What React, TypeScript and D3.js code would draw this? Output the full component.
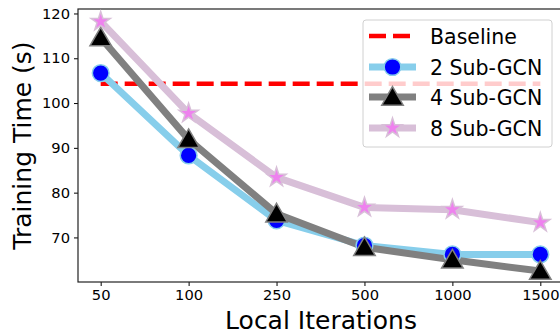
import React, { useEffect, useRef } from 'react';
import * as d3 from 'd3';

const iterations = ['50', '100', '250', '500', '1000', '1500'];
const baseline = 104.3;
const sub2 = [106.7, 88.3, 73.8, 68.2, 66.2, 66.2];
const sub4 = [114.6, 91.9, 75.3, 67.8, 65.0, 62.5];
const sub8 = [118.2, 97.7, 83.4, 76.7, 76.2, 73.3];
const yTicks = [70, 80, 90, 100, 110, 120];

const W = 560;
const H = 335;

const App = () => {
    const svgRef = useRef(null);

    useEffect(() => {
        const margin = { top: 9, right: -3, bottom: 53, left: 78 };
        const width = W - margin.left - margin.right;
        const height = H - margin.top - margin.bottom;

        d3.select(svgRef.current).selectAll('*').remove();
        const root = d3.select(svgRef.current);
        const svg = root.append('g')
            .attr('transform', `translate(${margin.left},${margin.top})`);

        const font = "'DejaVu Sans', sans-serif";

        const x = d3.scalePoint()
            .domain(iterations)
            .range([0, width])
            .padding(0.258);

        const y = d3.scaleLinear()
            .domain([60.05, 121])
            .range([height, 0]);

        // axes
        const xAxis = svg.append('g')
            .attr('transform', `translate(0,${height})`)
            .call(d3.axisBottom(x).tickSize(4).tickPadding(4));
        const yAxis = svg.append('g')
            .call(d3.axisLeft(y).tickValues(yTicks).tickSize(4).tickPadding(4));
        [xAxis, yAxis].forEach(a => {
            a.selectAll('text').style('font-family', font).style('font-size', '14.7px').attr('fill', '#000');
            a.selectAll('line').attr('stroke', '#000').attr('stroke-width', 1);
            a.select('.domain').remove();
        });

        // frame
        svg.append('rect')
            .attr('x', 0).attr('y', 0)
            .attr('width', width).attr('height', height)
            .attr('fill', 'none')
            .attr('stroke', '#222')
            .attr('stroke-width', 1.2);

        const plot = svg.append('g');

        const series = [
            { name: '2 Sub-GCN', values: sub2, line: '#87CEEB', fill: '#0000FF', edge: '#87CEEB', shape: d3.symbolCircle, size: 220 },
            { name: '4 Sub-GCN', values: sub4, line: '#808080', fill: '#000000', edge: '#808080', shape: d3.symbolTriangle, size: 200 },
            { name: '8 Sub-GCN', values: sub8, line: '#D8BFD8', fill: '#EE82EE', edge: '#D8BFD8', shape: d3.symbolStar, size: 115 },
        ];

        // baseline
        plot.append('line')
            .attr('x1', x(iterations[0])).attr('x2', x(iterations[iterations.length - 1]))
            .attr('y1', y(baseline)).attr('y2', y(baseline))
            .attr('stroke', '#FF0000')
            .attr('stroke-width', 4.5)
            .attr('stroke-dasharray', '17 7');

        const line = d3.line<number>()
            .x((d, i) => x(iterations[i]))
            .y(d => y(d));

        series.forEach(s => {
            plot.append('path')
                .datum(s.values)
                .attr('d', line)
                .attr('fill', 'none')
                .attr('stroke', s.line)
                .attr('stroke-width', 7)
                .attr('stroke-linejoin', 'round');
        });
        series.forEach(s => {
            plot.selectAll(null)
                .data(s.values)
                .enter()
                .append('path')
                .attr('d', d3.symbol().type(s.shape).size(s.size))
                .attr('transform', (d, i) => `translate(${x(iterations[i])},${y(d) + (s.shape === d3.symbolTriangle ? 2 : 0)})`)
                .attr('fill', s.fill)
                .attr('stroke', s.edge)
                .attr('stroke-width', 1.5);
        });

        // legend
        const lx = 363 - margin.left;
        const ly = 20 - margin.top;
        const legend = svg.append('g').attr('transform', `translate(${lx},${ly})`);
        legend.append('rect')
            .attr('width', 189).attr('height', 127)
            .attr('rx', 3)
            .attr('fill', 'rgba(255,255,255,0.8)')
            .attr('stroke', '#d0d0d0')
            .attr('stroke-width', 1);
        const rows = [16, 47, 77, 108];
        legend.append('line')
            .attr('x1', 6).attr('x2', 53)
            .attr('y1', rows[0]).attr('y2', rows[0])
            .attr('stroke', '#FF0000').attr('stroke-width', 4.5)
            .attr('stroke-dasharray', '17 7');
        legend.append('text')
            .attr('x', 67).attr('y', rows[0] + 7.5)
            .style('font-family', font).style('font-size', '20.5px')
            .text('Baseline');
        series.forEach((s, i) => {
            const ry = rows[i + 1];
            legend.append('line')
                .attr('x1', 6).attr('x2', 53)
                .attr('y1', ry).attr('y2', ry)
                .attr('stroke', s.line).attr('stroke-width', 7);
            legend.append('path')
                .attr('d', d3.symbol().type(s.shape).size(s.size))
                .attr('transform', `translate(29.5,${ry + (s.shape === d3.symbolTriangle ? 2 : 0)})`)
                .attr('fill', s.fill)
                .attr('stroke', s.edge)
                .attr('stroke-width', 1.5);
            legend.append('text')
                .attr('x', 67).attr('y', ry + 7.5)
                .style('font-family', font).style('font-size', '20.5px')
                .text(s.name);
        });

        // axis labels
        svg.append('text')
            .attr('x', 321 - margin.left)
            .attr('y', height + 47)
            .attr('text-anchor', 'middle')
            .style('font-family', font).style('font-size', '25px')
            .text('Local Iterations');
        svg.append('text')
            .attr('transform', `translate(${-margin.left + 31},${height / 2}) rotate(-90)`)
            .attr('text-anchor', 'middle')
            .style('font-family', font).style('font-size', '25px')
            .text('Training Time (s)');
    }, []);

    return (
        <svg ref={svgRef} width={W} height={H}
            style={{ position: 'absolute', left: 0, top: 0, overflow: 'hidden', background: '#fff' }}></svg>
    );
};

export default App;
